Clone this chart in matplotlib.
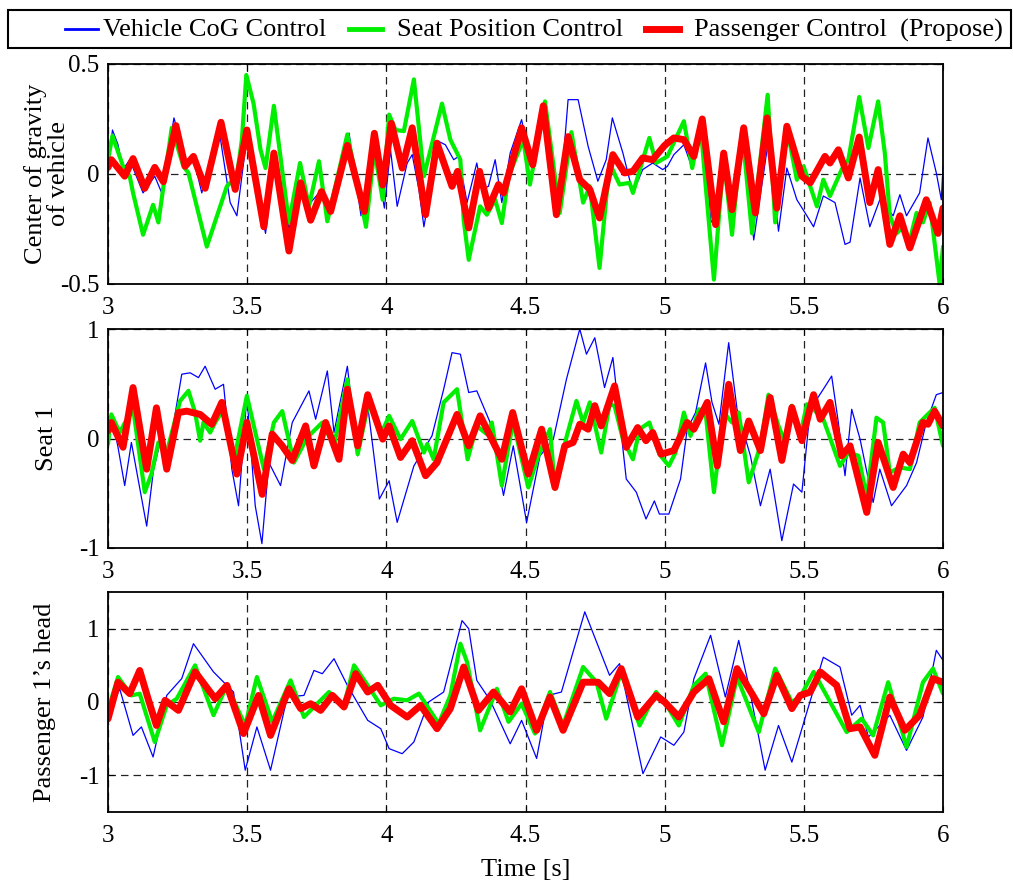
import matplotlib
matplotlib.use("Agg")
import matplotlib.pyplot as plt
from matplotlib.lines import Line2D
from matplotlib.patches import Rectangle

plt.rcParams['font.family'] = ['Liberation Serif', 'DejaVu Serif']
plt.rcParams['axes.unicode_minus'] = False

# (time [s], value) pairs, peaks and troughs
cog_blue = [(3.000, 0.02), (3.016, 0.20), (3.036, 0.133), (3.054, 0.02), (3.078, 0.065), (3.126, -0.086),
            (3.168, -0.01), (3.193, -0.086), (3.237, 0.255), (3.277, 0.065), (3.307, 0.073), (3.337, -0.086),
            (3.397, 0.217), (3.439, -0.13), (3.463, -0.19), (3.499, 0.17), (3.566, -0.27), (3.602, 0.095),
            (3.650, -0.25), (3.692, -0.04), (3.728, -0.13), (3.758, -0.086), (3.800, -0.147), (3.866, 0.186),
            (3.909, -0.19), (3.957, 0.126), (3.993, -0.155), (4.015, 0.11), (4.039, -0.147), (4.075, 0.05),
            (4.093, 0.088), (4.117, -0.07), (4.135, -0.24), (4.188, 0.148), (4.212, 0.133), (4.242, 0.065),
            (4.260, 0.08), (4.290, -0.13), (4.325, 0.05), (4.343, -0.07), (4.367, -0.056), (4.391, 0.065),
            (4.415, -0.13), (4.445, 0.095), (4.486, 0.247), (4.522, 0.035), (4.570, 0.33), (4.611, -0.147),
            (4.629, -0.04), (4.653, 0.338), (4.689, 0.338), (4.725, 0.126), (4.760, -0.033), (4.790, 0.065),
            (4.812, 0.255), (4.850, 0.095), (4.886, -0.086), (4.921, 0.02), (4.957, 0.05), (4.993, 0.02),
            (5.010, 0.035), (5.033, 0.088), (5.069, 0.133), (5.099, 0.027), (5.141, 0.224), (5.165, -0.21),
            (5.183, -0.24), (5.212, 0.065), (5.242, -0.19), (5.284, 0.17), (5.320, -0.30), (5.374, 0.164),
            (5.409, -0.26), (5.439, 0.027), (5.475, -0.117), (5.511, -0.19), (5.535, -0.24), (5.570, -0.10),
            (5.612, -0.13), (5.648, -0.32), (5.666, -0.31), (5.702, -0.018), (5.737, -0.24), (5.773, -0.117),
            (5.821, -0.19), (5.845, -0.094), (5.869, -0.19), (5.916, -0.086), (5.946, 0.164), (5.976, 0.005),
            (5.994, -0.117), (6.000, 0.035)]

cog_green = [(3.000, 0.065), (3.016, 0.174), (3.054, 0.035), (3.078, -0.01), (3.090, -0.086), (3.126, -0.276),
             (3.162, -0.14), (3.181, -0.22), (3.229, 0.21), (3.271, 0.035), (3.289, 0.005), (3.355, -0.33),
             (3.427, -0.056), (3.463, -0.01), (3.481, 0.156), (3.497, 0.45), (3.523, 0.32), (3.548, 0.11),
             (3.566, 0.027), (3.596, 0.31), (3.650, -0.22), (3.690, 0.05), (3.722, -0.147), (3.758, 0.058),
             (3.788, -0.215), (3.860, 0.18), (3.927, -0.24), (3.957, 0.11), (3.987, -0.117), (4.010, 0.27),
             (4.033, 0.20), (4.063, 0.195), (4.099, 0.43), (4.135, -0.01), (4.200, 0.32), (4.230, 0.156),
             (4.266, 0.065), (4.278, -0.21), (4.296, -0.39), (4.337, -0.147), (4.361, -0.185), (4.391, -0.117),
             (4.415, -0.223), (4.439, -0.01), (4.492, 0.156), (4.516, -0.048), (4.570, 0.33), (4.623, -0.177),
             (4.665, 0.19), (4.707, -0.13), (4.731, -0.056), (4.766, -0.427), (4.802, 0.05), (4.838, -0.048),
             (4.874, -0.04), (4.886, -0.086), (4.945, 0.164), (4.969, 0.05), (5.010, 0.08), (5.069, 0.24),
             (5.099, 0.027), (5.129, 0.224), (5.147, -0.048), (5.177, -0.48), (5.212, 0.08), (5.242, -0.276),
             (5.278, 0.20), (5.314, -0.27), (5.370, 0.36), (5.397, -0.22), (5.439, 0.21), (5.475, -0.026),
             (5.499, 0.035), (5.547, -0.147), (5.570, -0.026), (5.594, -0.10), (5.636, 0.02), (5.660, 0.065),
             (5.699, 0.35), (5.732, 0.118), (5.767, 0.33), (5.791, 0.095), (5.809, -0.19), (5.833, -0.27),
             (5.857, -0.24), (5.875, -0.33), (5.905, -0.177), (5.928, -0.22), (5.952, -0.13), (5.988, -0.5),
             (6.000, -0.33)]

cog_red = [(3.000, 0.03), (3.012, 0.065), (3.060, -0.01), (3.090, 0.07), (3.132, -0.065), (3.168, 0.03),
           (3.199, -0.035), (3.244, 0.22), (3.277, 0.035), (3.307, 0.08), (3.349, -0.065), (3.406, 0.235),
           (3.457, -0.07), (3.499, 0.20), (3.560, -0.24), (3.596, 0.095), (3.650, -0.35), (3.692, -0.04),
           (3.728, -0.21), (3.767, -0.08), (3.800, -0.17), (3.860, 0.13), (3.921, -0.17), (3.957, 0.185),
           (3.987, -0.05), (4.018, 0.23), (4.057, 0.027), (4.093, 0.21), (4.141, -0.185), (4.182, 0.14),
           (4.236, -0.056), (4.256, 0.012), (4.296, -0.245), (4.335, 0.012), (4.367, -0.155), (4.403, -0.048),
           (4.421, -0.086), (4.486, 0.21), (4.526, 0.042), (4.564, 0.31), (4.611, -0.185), (4.653, 0.17),
           (4.695, -0.026), (4.731, -0.07), (4.766, -0.20), (4.814, 0.088), (4.856, 0.005), (4.886, 0.012),
           (4.921, 0.073), (4.957, 0.065), (5.000, 0.13), (5.033, 0.164), (5.069, 0.156), (5.105, 0.08),
           (5.135, 0.25), (5.183, -0.23), (5.212, 0.095), (5.242, -0.162), (5.284, 0.21), (5.326, -0.177),
           (5.368, 0.255), (5.403, -0.155), (5.439, 0.217), (5.493, -0.01), (5.523, -0.04), (5.576, 0.08),
           (5.594, 0.05), (5.624, 0.11), (5.660, -0.018), (5.699, 0.168), (5.737, -0.13), (5.767, 0.02),
           (5.809, -0.32), (5.845, -0.19), (5.881, -0.336), (5.940, -0.117), (5.982, -0.27), (6.000, -0.155)]

seat_blue = [(3.000, 0.055), (3.018, 0.146), (3.036, -0.08), (3.060, -0.43), (3.084, -0.036), (3.139, -0.8),
             (3.163, -0.295), (3.187, -0.036), (3.217, -0.143), (3.265, 0.587), (3.295, 0.60), (3.325, 0.556),
             (3.349, 0.66), (3.385, 0.45), (3.415, 0.495), (3.445, -0.28), (3.469, -0.614), (3.499, 0.39),
             (3.529, -0.614), (3.553, -0.96), (3.578, -0.22), (3.620, -0.43), (3.662, 0.146), (3.722, 0.435),
             (3.746, 0.176), (3.788, 0.617), (3.812, 0.055), (3.860, 0.66), (3.897, -0.158), (3.933, 0.30),
             (3.975, -0.553), (4.010, -0.386), (4.039, -0.766), (4.099, -0.25), (4.164, 0.024), (4.206, 0.45),
             (4.236, 0.784), (4.266, 0.77), (4.296, 0.42), (4.325, 0.435), (4.373, 0.146), (4.421, -0.52),
             (4.456, -0.067), (4.504, -0.766), (4.552, -0.158), (4.600, -0.006), (4.647, 0.54), (4.695, 1.0),
             (4.719, 0.77), (4.749, 0.92), (4.784, 0.465), (4.814, 0.74), (4.862, -0.37), (4.898, -0.49),
             (4.933, -0.735), (4.963, -0.57), (4.981, -0.69), (5.015, -0.69), (5.057, -0.37), (5.081, 0.085),
             (5.111, 0.237), (5.147, 0.69), (5.170, 0.33), (5.195, 0.13), (5.230, 0.875), (5.260, 0.267),
             (5.308, -0.158), (5.344, -0.614), (5.379, -0.28), (5.421, -0.933), (5.463, -0.416), (5.493, -0.49),
             (5.523, 0.267), (5.570, 0.45), (5.600, 0.57), (5.624, 0.146), (5.648, -0.34), (5.672, 0.267),
             (5.702, -0.006), (5.749, -0.584), (5.773, -0.28), (5.815, -0.614), (5.869, -0.43), (5.905, -0.22),
             (5.940, 0.146), (5.976, 0.40), (6.000, 0.42)]

seat_green = [(3.000, -0.05), (3.012, 0.22), (3.042, 0.055), (3.090, 0.28), (3.132, -0.49), (3.156, -0.325),
              (3.181, -0.036), (3.211, -0.128), (3.259, 0.343), (3.289, 0.435), (3.313, 0.237), (3.331, -0.02),
              (3.343, 0.146), (3.367, 0.055), (3.385, 0.146), (3.415, 0.267), (3.451, -0.22), (3.499, 0.39),
              (3.560, -0.28), (3.596, 0.146), (3.626, 0.25), (3.668, -0.22), (3.716, 0.01), (3.770, 0.146),
              (3.812, -0.067), (3.860, 0.54), (3.897, -0.143), (3.939, 0.36), (3.981, 0.04), (4.010, 0.207),
              (4.051, -0.006), (4.093, 0.16), (4.135, -0.128), (4.147, -0.05), (4.170, -0.19), (4.206, 0.33),
              (4.254, 0.45), (4.292, -0.19), (4.325, 0.115), (4.361, 0.04), (4.379, 0.146), (4.415, -0.43),
              (4.439, -0.067), (4.456, 0.146), (4.510, -0.447), (4.546, -0.158), (4.588, 0.085), (4.606, -0.46),
              (4.647, 0.01), (4.683, 0.343), (4.707, 0.146), (4.731, 0.33), (4.772, -0.128), (4.802, 0.313),
              (4.820, 0.298), (4.850, -0.006), (4.886, -0.19), (4.910, 0.085), (4.945, 0.146), (4.981, -0.143),
              (5.015, -0.25), (5.039, -0.128), (5.069, 0.237), (5.093, 0.024), (5.123, 0.267), (5.147, 0.237),
              (5.177, -0.49), (5.212, 0.237), (5.242, 0.146), (5.266, 0.237), (5.302, -0.4), (5.344, -0.067),
              (5.373, 0.40), (5.409, 0.115), (5.433, -0.036), (5.457, 0.30), (5.487, 0.024), (5.511, 0.313),
              (5.535, 0.267), (5.570, 0.176), (5.630, -0.25), (5.660, -0.128), (5.696, -0.158), (5.726, -0.54),
              (5.761, 0.19), (5.785, 0.146), (5.809, -0.31), (5.845, -0.264), (5.881, -0.28), (5.916, 0.146),
              (5.952, 0.237), (5.970, 0.28), (6.000, -0.067)]

seat_red = [(3.000, 0.07), (3.012, 0.146), (3.054, -0.08), (3.090, 0.465), (3.139, -0.28), (3.174, 0.28),
            (3.211, -0.28), (3.253, 0.237), (3.283, 0.25), (3.331, 0.22), (3.373, 0.13), (3.409, 0.33),
            (3.463, -0.325), (3.499, 0.146), (3.554, -0.51), (3.590, 0.04), (3.626, -0.067), (3.662, -0.2),
            (3.710, 0.115), (3.740, -0.25), (3.782, 0.146), (3.830, -0.19), (3.860, 0.45), (3.897, -0.067),
            (3.933, 0.40), (3.987, -0.006), (4.010, 0.115), (4.051, -0.173), (4.093, -0.02), (4.141, -0.34),
            (4.182, -0.22), (4.254, 0.22), (4.296, -0.067), (4.337, 0.207), (4.415, -0.19), (4.454, 0.237),
            (4.510, -0.325), (4.558, 0.085), (4.606, -0.447), (4.641, -0.067), (4.671, -0.036), (4.695, 0.13),
            (4.725, 0.085), (4.749, 0.30), (4.772, 0.115), (4.820, 0.48), (4.862, -0.08), (4.903, 0.10),
            (4.933, -0.02), (4.957, 0.055), (4.987, -0.143), (5.033, -0.11), (5.081, 0.146), (5.105, 0.085),
            (5.153, 0.33), (5.189, -0.25), (5.230, 0.495), (5.272, -0.11), (5.302, 0.16), (5.344, -0.11),
            (5.379, 0.374), (5.421, -0.2), (5.457, 0.283), (5.493, -0.02), (5.535, 0.40), (5.559, 0.176),
            (5.594, 0.33), (5.636, -0.158), (5.666, -0.067), (5.726, -0.675), (5.767, -0.036), (5.821, -0.447),
            (5.857, -0.143), (5.881, -0.22), (5.928, 0.146), (5.946, 0.13), (5.970, 0.25), (6.000, 0.115)]

head_blue = [(3.000, -0.2), (3.042, 0.18), (3.090, -0.455), (3.120, -0.34), (3.162, -0.75), (3.211, 0.09),
             (3.265, 0.32), (3.307, 0.795), (3.379, 0.41), (3.451, 0.136), (3.493, -0.93), (3.535, -0.34),
             (3.584, -0.93), (3.644, 0.068), (3.704, 0.09), (3.740, 0.43), (3.770, 0.386), (3.812, 0.59),
             (3.860, 0.227), (3.933, -0.25), (3.980, -0.364), (4.010, -0.636), (4.057, -0.705), (4.099, -0.545),
             (4.152, 0.0), (4.206, 0.136), (4.272, 1.11), (4.296, 1.0), (4.325, 0.295), (4.373, 0.023),
             (4.445, -0.57), (4.486, -0.25), (4.540, -0.77), (4.582, 0.09), (4.629, 0.136), (4.713, 1.23),
             (4.802, 0.364), (4.838, 0.523), (4.922, -0.977), (4.986, -0.477), (5.033, -0.59), (5.069, -0.41),
             (5.105, 0.318), (5.165, 0.91), (5.218, 0.068), (5.266, 0.84), (5.302, 0.227), (5.361, -0.93),
             (5.409, -0.32), (5.457, -0.82), (5.511, -0.136), (5.570, 0.61), (5.630, 0.477), (5.672, -0.18),
             (5.702, -0.045), (5.732, -0.477), (5.809, -0.18), (5.869, -0.66), (5.928, -0.205), (5.976, 0.705),
             (6.000, 0.568)]

head_green = [(3.000, -0.114), (3.036, 0.34), (3.084, 0.09), (3.114, 0.114), (3.168, -0.545), (3.211, -0.045),
              (3.247, 0.045), (3.313, 0.5), (3.379, -0.18), (3.427, 0.227), (3.493, -0.32), (3.535, 0.34),
              (3.590, -0.27), (3.656, 0.295), (3.704, -0.205), (3.746, -0.045), (3.794, 0.136), (3.848, -0.045),
              (3.884, 0.5), (3.933, 0.227), (3.980, -0.045), (4.027, 0.045), (4.075, 0.023), (4.117, 0.114),
              (4.188, -0.295), (4.230, 0.09), (4.266, 0.795), (4.290, 0.545), (4.337, -0.386), (4.397, 0.18),
              (4.439, -0.27), (4.486, -0.023), (4.534, -0.43), (4.588, 0.136), (4.635, -0.32), (4.707, 0.477),
              (4.755, 0.27), (4.790, -0.227), (4.844, 0.41), (4.910, -0.32), (4.969, 0.136), (5.000, 0.0),
              (5.051, -0.32), (5.105, 0.227), (5.147, 0.386), (5.206, -0.59), (5.260, 0.34), (5.338, -0.41),
              (5.397, 0.455), (5.457, 0.0), (5.487, 0.068), (5.535, 0.41), (5.654, -0.41), (5.708, -0.227),
              (5.749, -0.455), (5.803, 0.27), (5.869, -0.614), (5.928, 0.27), (5.964, 0.455), (6.000, 0.114)]

head_red = [(3.000, -0.23), (3.036, 0.27), (3.078, 0.114), (3.114, 0.43), (3.144, 0.045), (3.174, -0.32),
            (3.205, 0.023), (3.253, -0.114), (3.313, 0.41), (3.385, 0.045), (3.427, 0.227), (3.487, -0.43),
            (3.541, 0.09), (3.584, -0.455), (3.650, 0.18), (3.692, -0.09), (3.728, -0.023), (3.764, -0.114),
            (3.806, 0.09), (3.848, -0.068), (3.890, 0.386), (3.933, 0.136), (3.969, 0.227), (4.015, -0.045),
            (4.075, -0.205), (4.123, -0.045), (4.182, -0.364), (4.230, -0.09), (4.278, 0.477), (4.331, -0.114),
            (4.385, 0.136), (4.445, -0.136), (4.486, 0.18), (4.540, -0.386), (4.588, 0.068), (4.635, -0.386),
            (4.707, 0.27), (4.761, 0.27), (4.802, 0.114), (4.844, 0.455), (4.903, -0.205), (4.969, 0.09),
            (5.000, 0.0), (5.051, -0.205), (5.105, 0.136), (5.159, 0.318), (5.212, -0.27), (5.260, 0.455),
            (5.356, -0.16), (5.403, 0.364), (5.457, -0.09), (5.487, 0.09), (5.523, 0.136), (5.559, 0.41),
            (5.618, 0.227), (5.666, -0.364), (5.702, -0.34), (5.755, -0.727), (5.809, 0.068), (5.863, -0.386),
            (5.916, -0.18), (5.964, 0.318), (6.000, 0.27)]

series_names = ["Vehicle CoG Control", "Seat Position Control", "Passenger Control  (Propose)"]
panel_labels = ["Center of gravity\nof vehicle", "Seat 1", "Passenger 1\u2019s head"]
panel_ylims = [(-0.5, 0.5), (-1, 1), (-1.5, 1.5)]
panel_yticks = [[-0.5, 0, 0.5], [-1, 0, 1], [-1, 0, 1]]
panel_yticklabels = [["-0.5", "0", "0.5"], ["-1", "0", "1"], ["-1", "0", "1"]]
xticks = [3, 3.5, 4, 4.5, 5, 5.5, 6]
xticklabels = ["3", "3.5", "4", "4.5", "5", "5.5", "6"]

panels = [(cog_blue, cog_green, cog_red),
          (seat_blue, seat_green, seat_red),
          (head_blue, head_green, head_red)]

colors = ["#0000ff", "#00ee00", "#ff0000"]
widths = [0.9, 3.0, 5.0]

W, H = 1013, 883
fig = plt.figure(figsize=(W / 100, H / 100), dpi=100)

# axes boxes in pixels: (top, bottom)
boxes = [(64, 284), (329, 548), (592, 812)]
left, right = 108, 943
label_x = [-0.045, -0.06, -0.062]

for i, (top, bot) in enumerate(boxes):
    ax = fig.add_axes([left / W, 1 - bot / H, (right - left) / W, (bot - top) / H])
    for data, c, lw in zip(panels[i], colors, widths):
        t = [p[0] for p in data]
        v = [p[1] for p in data]
        ax.plot(t, v, color=c, lw=lw, solid_joinstyle='round', solid_capstyle='round')
    ax.set_xlim(3, 6)
    ax.set_ylim(*panel_ylims[i])
    ax.set_xticks(xticks)
    ax.set_xticklabels(xticklabels)
    ax.set_yticks(panel_yticks[i])
    ax.set_yticklabels(panel_yticklabels[i])
    ax.grid(True, color='#222222', linestyle=(0, (6, 4)), lw=0.9)
    ax.tick_params(direction='in', top=True, right=True, labelsize=18, length=4)
    ax.tick_params(axis='x', pad=9)
    ax.tick_params(axis='y', pad=6)
    for sp in ax.spines.values():
        sp.set_linewidth(1.3)
    ax.set_ylabel(panel_labels[i], fontsize=19, linespacing=1.1)
    ax.yaxis.set_label_coords(label_x[i], 0.5)
    if i == 2:
        ax.set_xlabel("Time [s]", fontsize=19, labelpad=9)

# legend box drawn across the top
fig.add_artist(Rectangle((8 / W, 1 - 48 / H), 1003 / W, 38 / H, transform=fig.transFigure,
                         fill=False, edgecolor='black', lw=1.5))
handle_x = [(65, 98), (349, 382), (646, 679)]
text_x = [103, 397, 694]
handle_w = [2.0, 3.5, 5.0]
for (x0, x1), tx, c, hw, name in zip(handle_x, text_x, colors, handle_w, series_names):
    fig.add_artist(Line2D([x0 / W, x1 / W], [1 - 29 / H, 1 - 29 / H], transform=fig.transFigure,
                          color=c, lw=hw))
    fig.text(tx / W, 1 - 30 / H, name, fontsize=19, ha='left', va='center')

fig.savefig("out.png", dpi=100)
